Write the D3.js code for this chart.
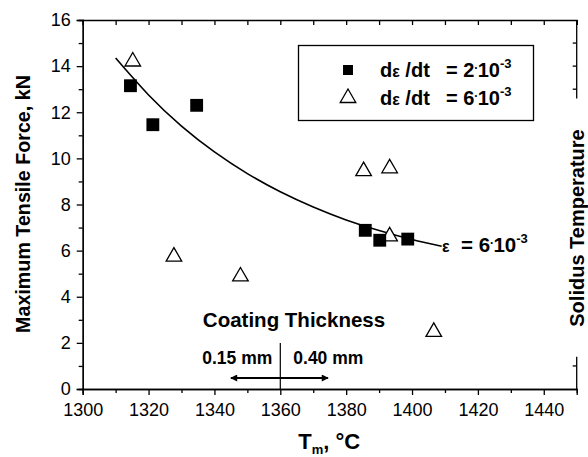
<!DOCTYPE html>
<html>
<head>
<meta charset="utf-8">
<script src="https://cdn.jsdelivr.net/npm/d3@7"></script>
<style>
  body { margin: 0; background: #fff; }
  svg { display: block; font-family: 'Liberation Sans', Arial, sans-serif; }
</style>
</head>
<body>
<div id="chart"></div>
<script>
// data
const slowRate = [ // dε/dt = 2e-3, filled squares
  { t: 1314.5, f: 13.15 },
  { t: 1321.3, f: 11.46 },
  { t: 1334.6, f: 12.30 },
  { t: 1385.8, f: 6.88 },
  { t: 1390.2, f: 6.45 },
  { t: 1398.7, f: 6.50 },
];
const fastRate = [ // dε/dt = 6e-3, open triangles
  { t: 1315.2, f: 14.20 },
  { t: 1327.7, f: 5.74 },
  { t: 1347.9, f: 4.88 },
  { t: 1385.3, f: 9.45 },
  { t: 1393.2, f: 9.57 },
  { t: 1393.2, f: 6.62 },
  { t: 1406.6, f: 2.48 },
];
const fitCurve = [ // ε = 6e-3 curve
  { t: 1310, f: 14.35 },
  { t: 1320, f: 12.75 },
  { t: 1330, f: 11.40 },
  { t: 1340, f: 10.28 },
  { t: 1350, f: 9.34 },
  { t: 1360, f: 8.55 },
  { t: 1370, f: 7.89 },
  { t: 1380, f: 7.33 },
  { t: 1390, f: 6.87 },
  { t: 1400, f: 6.48 },
  { t: 1409, f: 6.19 },
];
const xTicks = [1300, 1320, 1340, 1360, 1380, 1400, 1420, 1440];
const yTicks = [0, 2, 4, 6, 8, 10, 12, 14, 16];
const legendLabels = ['2', '6'];
const coatingSplit = 1360;
const arrowRange = [1345, 1374.5];

const width = 588, height = 457;
const margin = { top: 20, right: 11.3, bottom: 68, left: 82.7 };

const svg = d3.select('#chart').append('svg')
  .attr('width', width)
  .attr('height', height);

const x = d3.scaleLinear().domain([1300, 1450]).range([margin.left, width - margin.right]);
const y = d3.scaleLinear().domain([0, 16]).range([height - margin.bottom, margin.top]);

const axisW = 1.3;

// bottom axis (outward ticks)
const bottom = svg.append('g')
  .attr('transform', `translate(0,${y(0)})`)
  .call(d3.axisBottom(x).tickValues(xTicks).tickSize(6).tickPadding(8).tickFormat(d3.format('d')));
bottom.append('g').call(d3.axisBottom(x).tickValues(d3.range(1310, 1450, 20)).tickSize(4).tickFormat(''));

// left axis
const left = svg.append('g')
  .attr('transform', `translate(${x(1300)},0)`)
  .call(d3.axisLeft(y).tickValues(yTicks).tickSize(6).tickPadding(6).tickFormat(d3.format('d')));
left.append('g').call(d3.axisLeft(y).tickValues(d3.range(1, 16, 2)).tickSize(4).tickFormat(''));

// top axis, inward ticks
svg.append('g')
  .attr('transform', `translate(0,${y(16)})`)
  .call(d3.axisBottom(x).tickValues(d3.range(1300, 1451, 10)).tickSize(5).tickFormat(''));

// right axis: broken by the "Solidus Temperature" label
const rightTop = [12.6, 16], rightBottom = [0, 1.4];
[rightTop, rightBottom].forEach(seg => {
  svg.append('line')
    .attr('x1', x(1450)).attr('x2', x(1450))
    .attr('y1', y(seg[0])).attr('y2', y(seg[1]))
    .attr('stroke', '#000').attr('stroke-width', axisW);
});
svg.append('g').selectAll('line')
  .data([13, 14, 15, 1])
  .join('line')
  .attr('x1', x(1450)).attr('x2', x(1450) - 4)
  .attr('y1', d => y(d)).attr('y2', d => y(d))
  .attr('stroke', '#000').attr('stroke-width', axisW);

svg.selectAll('.domain').attr('stroke', '#000').attr('stroke-width', axisW);
svg.selectAll('.tick line').attr('stroke', '#000').attr('stroke-width', axisW);
svg.selectAll('.tick text').attr('font-size', 18).attr('fill', '#000');
svg.selectAll('g').attr('font-family', null);

// axis titles
svg.append('text')
  .attr('transform', `translate(${x(1300) - 53},204) rotate(-90)`)
  .attr('text-anchor', 'middle')
  .attr('font-weight', 'bold')
  .attr('font-size', 19.7)
  .text('Maximum Tensile Force, kN');

const xt = svg.append('text')
  .attr('x', x(1360) + 49).attr('y', 449)
  .attr('text-anchor', 'middle')
  .attr('font-weight', 'bold')
  .attr('font-size', 22);
xt.append('tspan').text('T');
xt.append('tspan').attr('font-size', 13).attr('dy', 5).text('m');
xt.append('tspan').attr('dy', -5).text(', °C');

svg.append('text')
  .attr('transform', `translate(${x(1450) + 7},228) rotate(-90)`)
  .attr('text-anchor', 'middle')
  .attr('font-weight', 'bold')
  .attr('font-size', 20)
  .text('Solidus Temperature');

// fit curve
const line = d3.line().x(d => x(d.t)).y(d => y(d.f)).curve(d3.curveNatural);
svg.append('path')
  .datum(fitCurve)
  .attr('d', line)
  .attr('fill', 'none')
  .attr('stroke', '#000')
  .attr('stroke-width', 1.6);

// markers
const sq = d3.symbol().type(d3.symbolSquare).size(165);
const tri = d3.symbol().type(d3.symbolTriangle).size(105);

svg.append('g').selectAll('path')
  .data(fastRate)
  .join('path')
  .attr('transform', d => `translate(${x(d.t)},${y(d.f)})`)
  .attr('d', tri)
  .attr('fill', '#fff')
  .attr('stroke', '#000')
  .attr('stroke-width', 1.3);

svg.append('g').selectAll('path')
  .data(slowRate)
  .join('path')
  .attr('transform', d => `translate(${x(d.t)},${y(d.f)})`)
  .attr('d', sq)
  .attr('fill', '#000');

// rate text: parts of prefix (ε smaller), then "k·10^-3" placed from eqX
function rateText(sel, parts, k, x0, eqX) {
  parts.forEach((p, i) => {
    const ts = sel.append('tspan').text(p);
    if (i === 0) ts.attr('x', x0);
    if (p === 'ε') ts.attr('font-size', 16);
  });
  sel.append('tspan').attr('x', eqX).text('= ' + k);
  sel.append('tspan').attr('font-size', 12).attr('dy', -8).text('.');
  sel.append('tspan').attr('dy', 8).text('10');
  sel.append('tspan').attr('font-size', 13).attr('dy', -9).text('-3');
}

// legend
const lg = svg.append('g');
lg.append('rect')
  .attr('x', 298.5).attr('y', 45.5).attr('width', 235).attr('height', 75)
  .attr('fill', '#fff').attr('stroke', '#000').attr('stroke-width', 1.3);
legendLabels.forEach((k, i) => {
  const cy = 70 + i * 28;
  lg.append('path')
    .attr('transform', `translate(348,${cy})`)
    .attr('d', i === 0 ? d3.symbol().type(d3.symbolSquare).size(100) : tri)
    .attr('fill', i === 0 ? '#000' : '#fff')
    .attr('stroke', '#000').attr('stroke-width', i === 0 ? 0 : 1.3);
  const t = lg.append('text')
    .attr('y', cy + 7)
    .attr('font-weight', 'bold').attr('font-size', 20);
  rateText(t, ['d', 'ε', ' /dt'], k, 380, 446);
});

// curve label
const cl = svg.append('text')
  .attr('y', 252)
  .attr('font-weight', 'bold').attr('font-size', 20.5);
rateText(cl, ['ε'], '6', 442, 461);

// coating thickness annotation
svg.append('text')
  .attr('x', 294).attr('y', 327)
  .attr('text-anchor', 'middle')
  .attr('font-weight', 'bold').attr('font-size', 20.5)
  .text('Coating Thickness');
svg.append('line')
  .attr('x1', x(coatingSplit)).attr('x2', x(coatingSplit))
  .attr('y1', 343).attr('y2', y(0))
  .attr('stroke', '#000').attr('stroke-width', 1.2);
svg.append('text')
  .attr('x', x(coatingSplit) - 8).attr('y', 364)
  .attr('text-anchor', 'end')
  .attr('font-weight', 'bold').attr('font-size', 17.5)
  .text('0.15 mm');
svg.append('text')
  .attr('x', x(coatingSplit) + 13).attr('y', 364)
  .attr('font-weight', 'bold').attr('font-size', 17.5)
  .text('0.40 mm');

const defs = svg.append('defs');
defs.append('marker')
  .attr('id', 'ah').attr('viewBox', '0 0 10 10')
  .attr('refX', 9).attr('refY', 5)
  .attr('markerWidth', 12).attr('markerHeight', 7)
  .attr('markerUnits', 'userSpaceOnUse')
  .attr('orient', 'auto-start-reverse')
  .append('path').attr('d', 'M0,0L10,5L0,10Z').attr('fill', '#000');
svg.append('line')
  .attr('x1', x(arrowRange[0])).attr('x2', x(arrowRange[1]))
  .attr('y1', 378).attr('y2', 378)
  .attr('stroke', '#000').attr('stroke-width', 2)
  .attr('marker-start', 'url(#ah)').attr('marker-end', 'url(#ah)');
</script>
</body>
</html>
